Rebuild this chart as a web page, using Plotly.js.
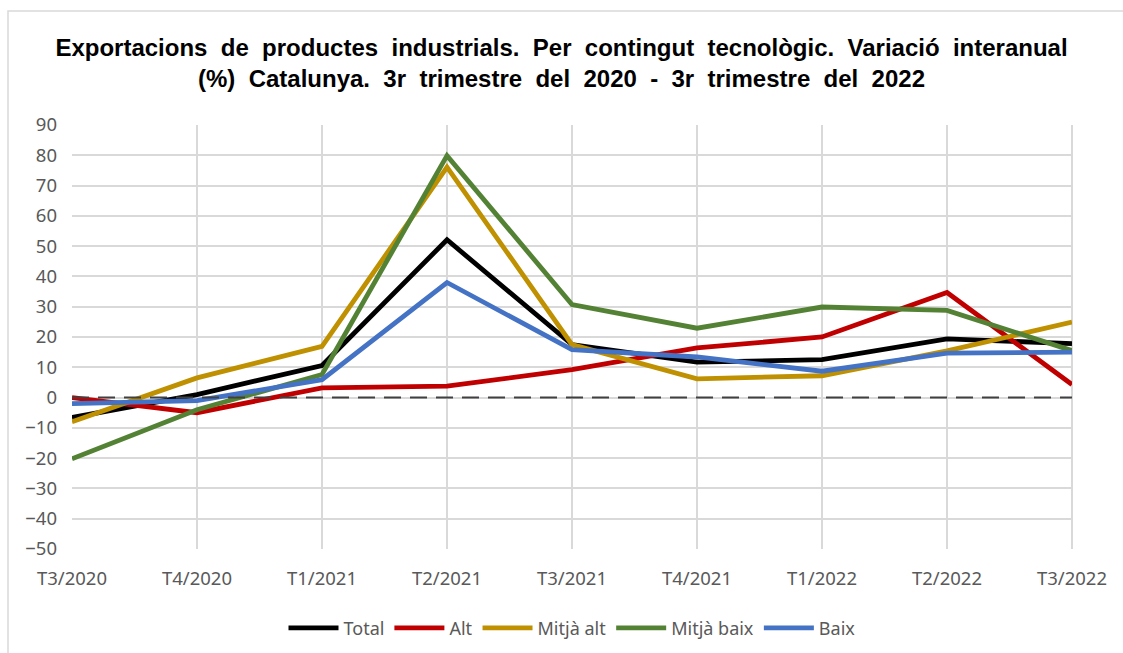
<!DOCTYPE html>
<html>
<head>
<meta charset="utf-8">
<script src="https://cdn.plot.ly/plotly-3.0.1.min.js"></script>
<style>html,body{margin:0;padding:0;background:#fff;}#chart{width:1123px;height:653px;}</style>
</head>
<body>
<div id="chart"></div>
<script>
const categories = ["T3/2020","T4/2020","T1/2021","T2/2021","T3/2021","T4/2021","T1/2022","T2/2022","T3/2022"];
const total     = [-6.6, 1.0, 10.6, 52.1, 17.5, 11.7, 12.5, 19.4, 17.8];
const alt       = [0.0, -5.0, 3.2, 3.8, 9.2, 16.4, 20.0, 34.7, 4.3];
const mitjaAlt  = [-8.0, 6.5, 16.9, 76.1, 17.5, 6.2, 7.2, 15.4, 24.9];
const mitjaBaix = [-20.2, -4.0, 7.6, 79.9, 30.7, 22.9, 29.9, 28.8, 15.5];
const baix      = [-2.0, -1.0, 5.9, 38.0, 15.8, 13.4, 8.7, 14.7, 15.0];
const seriesNames = ["Total","Alt","Mitjà alt","Mitjà baix","Baix"];
const yTicks = [90,80,70,60,50,40,30,20,10,0,-10,-20,-30,-40,-50];

const colors = ["#000000","#c00000","#bf9000","#548235","#4472c4"];
const data = [total, alt, mitjaAlt, mitjaBaix, baix].map((vals, i) => ({
  x: categories, y: vals, name: seriesNames[i], type: "scatter", mode: "lines",
  line: {color: colors[i], width: 4.8}
}));

const sp = "&nbsp;";
const titleText =
  ["Exportacions","de","productes","industrials.","Per","contingut","tecnològic.","Variació","interanual"].join(" " + sp) +
  "<br>" +
  ["(%)","Catalunya.","3r","trimestre","del","2020","-","3r","trimestre","del","2022"].join(" " + sp);

const layout = {
  width: 1123, height: 653,
  margin: {l: 72, r: 51, t: 125, b: 104, autoexpand: false},
  paper_bgcolor: "#ffffff", plot_bgcolor: "#ffffff",
  font: {family: "Noto Sans, sans-serif", color: "#595959", size: 17},
  title: {
    text: titleText,
    font: {family: "Liberation Sans, Arial, sans-serif", size: 24, color: "#000000", weight: "bold"},
    x: 0.5, xanchor: "center", yref: "container", y: 0.915, yanchor: "top"
  },
  xaxis: {
    type: "category", range: [0, 8], showgrid: true, gridcolor: "#d9d9d9", gridwidth: 2,
    zeroline: false, showline: false, ticks: "", tickfont: {size: 18.5, color: "#595959"},
    ticklabelstandoff: 16
  },
  yaxis: {
    range: [-50, 90], tickvals: yTicks, showgrid: true, gridcolor: "#d9d9d9", gridwidth: 2,
    zeroline: false, showline: false, ticks: "", tickfont: {size: 18.5, color: "#595959"},
    ticklabelstandoff: 14
  },
  showlegend: true,
  legend: {orientation: "h", x: 0.5, xanchor: "center", yref: "container", y: 0.038, yanchor: "middle",
    font: {size: 18, color: "#595959"}, itemwidth: 50, tracegroupgap: 0},
  shapes: [
    {type: "line", xref: "paper", yref: "y", x0: 0, x1: 1, y0: 0, y1: 0,
     line: {color: "#404040", width: 2, dash: "17px,9px"}, layer: "above"},
    {type: "line", xref: "paper", yref: "paper", x0: 1, x1: 1, y0: 0, y1: 1,
     line: {color: "#d9d9d9", width: 2}, layer: "below"},
    {type: "rect", xref: "paper", yref: "paper", x0: -0.064, x1: 1.06, y0: -0.26, y1: 1.269,
     line: {color: "#d9d9d9", width: 1.5}, fillcolor: "rgba(0,0,0,0)", layer: "below"}
  ]
};

Plotly.newPlot("chart", data, layout, {displayModeBar: false, staticPlot: true});
</script>
</body>
</html>
